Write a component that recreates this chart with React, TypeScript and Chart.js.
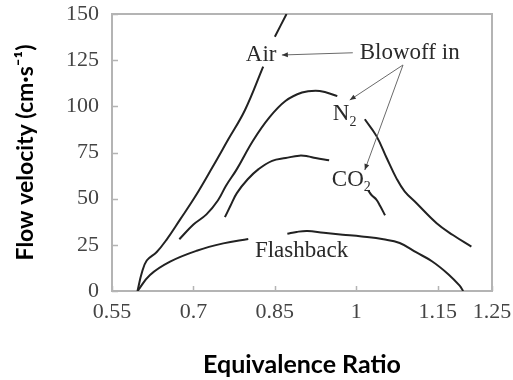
import React, { useEffect, useRef } from "react";
import { Chart, registerables } from "chart.js";

Chart.register(...registerables);

// ---- axis ticks ----
const xTickValues = [0.55, 0.7, 0.85, 1, 1.15, 1.25];
const yTickValues = [0, 25, 50, 75, 100, 125, 150];

// ---- series (null = break in the drawn curve) ----
const airX = [0.597, 0.6047, 0.614, 0.632, 0.651, 0.675, 0.703, 0.735, 0.764, 0.795, 0.8285, 0.839, 0.85, 0.8715];
const airY = [0, 9.6, 16.5, 21, 28, 38.5, 51, 67, 82, 98, 121.5, null, 137.7, 150];

const n2LeftX = [0.674, 0.70, 0.724, 0.745, 0.76, 0.78, 0.81, 0.84, 0.87, 0.90, 0.925, 0.945, 0.965];
const n2LeftY = [28, 36, 41.5, 49, 57, 66, 81.5, 94, 103, 107.5, 108.5, 107.5, 105.5];
const n2RightX = [1.0157, 1.037, 1.056, 1.074, 1.089, 1.111, 1.148, 1.178, 1.212];
const n2RightY = [93, 84, 72, 61, 54, 47.5, 36.7, 30.3, 24];

const co2LeftX = [0.758, 0.768, 0.78, 0.80, 0.82, 0.845, 0.87, 0.895, 0.91, 0.925, 0.95];
const co2LeftY = [40, 46, 53, 60.5, 66, 70.5, 72, 73.3, 73, 72, 70.8];
const co2RightX = [1.022, 1.028, 1.037, 1.044, 1.053];
const co2RightY = [54.5, 52, 49.5, 46, 41];

const flashX = [0.597, 0.62, 0.657, 0.706, 0.755, 0.801, 0.837, 0.873, 0.89, 0.91, 0.94, 0.975, 1.01, 1.05, 1.08, 1.11, 1.14, 1.17, 1.19, 1.197];
const flashY = [0, 8.7, 15.9, 21.8, 25.8, 28.2, null, 31, 32, 32.5, 31.5, 30.5, 29.5, 28, 26, 21, 16, 9, 3, 0];

// ---- annotation texts (anchored in data units) ----
const labels = [
  { text: "Air", sub: "", x: 0.7966, y: 127.8 },
  { text: "Blowoff in", sub: "", x: 1.0064, y: 128.7 },
  { text: "N", sub: "2", x: 0.9568, y: 95.8 },
  { text: "CO", sub: "2", x: 0.9549, y: 60.4 },
  { text: "Flashback", sub: "", x: 0.8132, y: 21.7 },
];
const arrows = [
  { x0: 0.9936, y0: 129.0, x1: 0.8629, y1: 127.8 },
  { x0: 1.0861, y0: 122.4, x1: 0.988, y1: 103.4 },
  { x0: 1.0861, y0: 122.4, x1: 1.0157, y1: 65.5 },
];

const toPoints = (xs: number[], ys: (number | null)[]) => xs.map((x, i) => ({ x, y: ys[i] }));

const SERIF = '"Liberation Serif", "Times New Roman", serif';

const decorPlugin = {
  id: "decor",
  beforeDatasetsDraw(chart: any) {
    const { ctx, chartArea: a, scales } = chart;
    const x = scales.x, y = scales.y;
    ctx.save();
    ctx.strokeStyle = "#b4b4b4";
    ctx.lineWidth = 2;
    ctx.strokeRect(a.left, a.top, a.right - a.left, a.bottom - a.top);
    ctx.lineWidth = 1.5;
    ctx.beginPath();
    x.ticks.forEach((t: any) => {
      const px = Math.round(x.getPixelForValue(t.value)) + 0.5;
      ctx.moveTo(px, a.bottom);
      ctx.lineTo(px, a.bottom - 5);
    });
    y.ticks.forEach((t: any) => {
      const py = Math.round(y.getPixelForValue(t.value)) + 0.5;
      ctx.moveTo(a.left, py);
      ctx.lineTo(a.left + 6, py);
    });
    ctx.stroke();
    ctx.restore();
  },
  afterDatasetsDraw(chart: any) {
    const { ctx, scales } = chart;
    const x = scales.x, y = scales.y;
    ctx.save();
    ctx.fillStyle = "#2a2a2a";
    ctx.textBaseline = "middle";
    ctx.textAlign = "left";
    labels.forEach((l) => {
      const px = x.getPixelForValue(l.x);
      const py = y.getPixelForValue(l.y);
      ctx.font = `23px ${SERIF}`;
      ctx.fillText(l.text, px, py);
      if (l.sub) {
        const w = ctx.measureText(l.text).width;
        ctx.font = `14px ${SERIF}`;
        ctx.fillText(l.sub, px + w, py + 8);
      }
    });
    ctx.strokeStyle = "#6a6a6a";
    ctx.fillStyle = "#333";
    ctx.lineWidth = 1;
    arrows.forEach((ar) => {
      const x0 = x.getPixelForValue(ar.x0), y0 = y.getPixelForValue(ar.y0);
      const x1 = x.getPixelForValue(ar.x1), y1 = y.getPixelForValue(ar.y1);
      const ang = Math.atan2(y1 - y0, x1 - x0);
      ctx.beginPath();
      ctx.moveTo(x0, y0);
      ctx.lineTo(x1, y1);
      ctx.stroke();
      const L = 6, W = 2.5;
      ctx.beginPath();
      ctx.moveTo(x1, y1);
      ctx.lineTo(x1 - L * Math.cos(ang) + W * Math.sin(ang), y1 - L * Math.sin(ang) - W * Math.cos(ang));
      ctx.lineTo(x1 - L * Math.cos(ang) - W * Math.sin(ang), y1 - L * Math.sin(ang) + W * Math.cos(ang));
      ctx.closePath();
      ctx.fill();
    });
    ctx.restore();
  },
};

export default function App() {
  const ref = useRef<HTMLCanvasElement | null>(null);
  useEffect(() => {
    if (!ref.current) return;
    const lineStyle = { borderColor: "#222", borderWidth: 2, pointRadius: 0, tension: 0.4, spanGaps: false, fill: false };
    const chart = new Chart(ref.current, {
      type: "line",
      data: {
        datasets: [
          { label: "Air", data: toPoints(airX, airY), ...lineStyle },
          { label: "N2 a", data: toPoints(n2LeftX, n2LeftY), ...lineStyle },
          { label: "N2 b", data: toPoints(n2RightX, n2RightY), ...lineStyle },
          { label: "CO2 a", data: toPoints(co2LeftX, co2LeftY), ...lineStyle },
          { label: "CO2 b", data: toPoints(co2RightX, co2RightY), ...lineStyle },
          { label: "Flashback", data: toPoints(flashX, flashY), ...lineStyle },
        ] as any,
      },
      options: {
        animation: false,
        responsive: false,
        maintainAspectRatio: false,
        layout: { autoPadding: false, padding: { top: 14, right: 21, left: 0, bottom: 0 } },
        plugins: { legend: { display: false }, tooltip: { enabled: false } },
        scales: {
          x: {
            type: "linear",
            min: 0.55,
            max: 1.25,
            afterBuildTicks: (s: any) => {
              s.ticks = xTickValues.map((v) => ({ value: v }));
            },
            afterFit: (s: any) => {
              s.height = 89;
              s.paddingLeft = 0;
              s.paddingRight = 0;
            },
            ticks: {
              autoSkip: false,
              maxRotation: 0,
              padding: 8,
              color: "#444",
              font: { family: SERIF, size: 22 },
              callback: (v: any) => String(v),
            },
            grid: { display: false, drawTicks: false },
            border: { display: false },
            title: {
              display: true,
              text: "Equivalence Ratio",
              color: "#000",
              font: { family: "Lato", weight: "bold", size: 25 },
              padding: { top: 0, bottom: 0 },
            },
          },
          y: {
            type: "linear",
            min: 0,
            max: 150,
            afterBuildTicks: (s: any) => {
              s.ticks = yTickValues.map((v) => ({ value: v }));
            },
            afterFit: (s: any) => {
              s.width = 112;
              s.paddingTop = 0;
              s.paddingBottom = 0;
            },
            ticks: {
              padding: 13,
              color: "#444",
              font: { family: SERIF, size: 22 },
            },
            grid: { display: false, drawTicks: false },
            border: { display: false },
            title: {
              display: true,
              text: "Flow velocity (cm·s⁻¹)",
              color: "#000",
              font: { family: "Lato", weight: "bold", size: 23 },
              padding: { top: 12, bottom: 0 },
            },
          },
        },
      } as any,
      plugins: [decorPlugin],
    });
    return () => chart.destroy();
  }, []);
  return (
    <div style={{ position: "fixed", left: 0, top: 0, width: 513, height: 380, background: "#fff" }}>
      <canvas ref={ref} width={513} height={380} style={{ display: "block" }} />
    </div>
  );
}
